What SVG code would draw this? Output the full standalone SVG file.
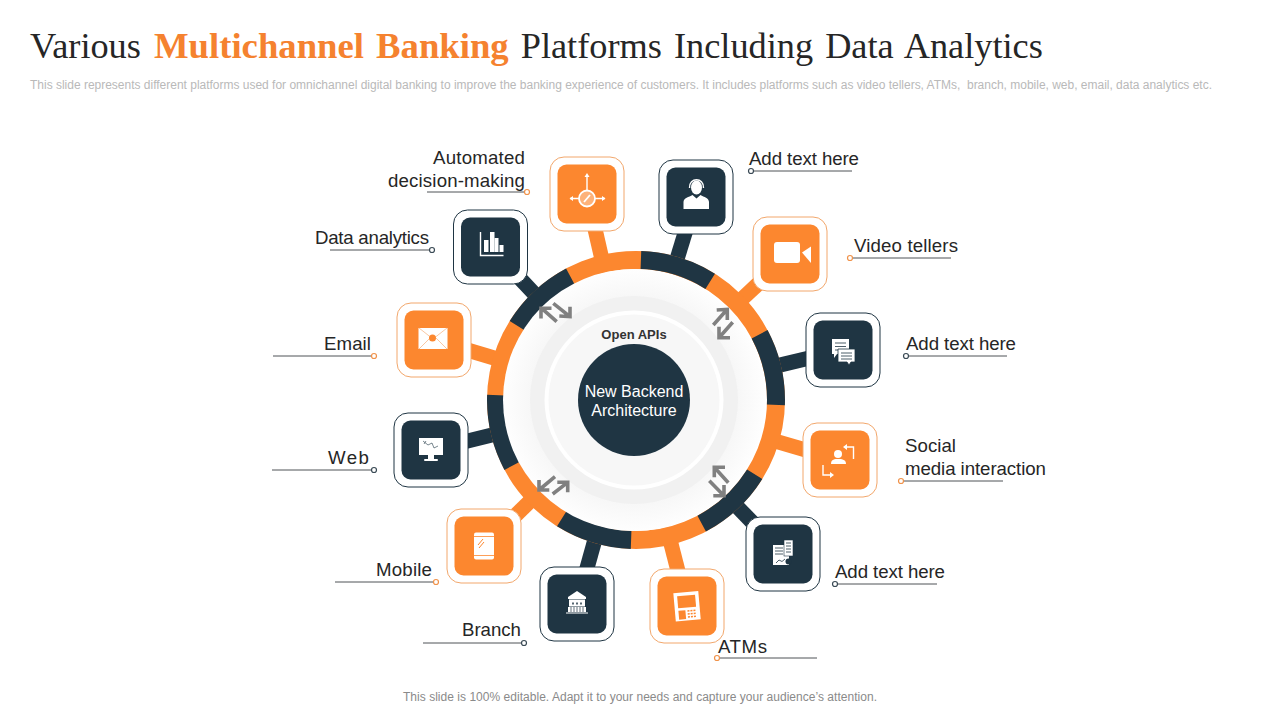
<svg xmlns="http://www.w3.org/2000/svg" width="1280" height="720" viewBox="0 0 1280 720">
<style>
text{font-family:"Liberation Sans",Arial,sans-serif}
.lb{font-size:18.67px;fill:#262626}
.ld{fill:none;stroke:#3a3f44;stroke-width:0.9}
.oO{fill:#fff;stroke:#f2a76c;stroke-width:1}
.oD{fill:#fff;stroke:#1f3543;stroke-width:1}
.iO{fill:#fc872f}
.iD{fill:#1f3543}
.st{stroke-width:15;fill:none}
.ar{fill:none;stroke:#808080;stroke-width:3.6}
.w{fill:#fff}
.wl{fill:none;stroke:#fff;stroke-width:1.4}
</style>
<defs>
<radialGradient id="disc" gradientUnits="userSpaceOnUse" cx="634" cy="400" r="131">
<stop offset="0.7" stop-color="#f4f4f4"/><stop offset="1" stop-color="#fefefe"/>
</radialGradient>
<rect id="o" x="-37" y="-37" width="74" height="74" rx="14" ry="14"/>
<rect id="i" x="-29.500" y="-29.500" width="59" height="59" rx="9" ry="9"/>
</defs>
<rect width="1280" height="720" fill="#fff"/>
<text id="title" x="30" y="58" font-size="36.300" style="font-family:'Liberation Serif','Times New Roman',serif" fill="#262626" word-spacing="3">Various <tspan dx="1" fill="#f5822f" font-weight="bold" font-size="36.700">Multichannel Banking</tspan> Platforms Including Data Analytics</text>
<text x="30" y="89" font-size="12" fill="#b9b9b9" textLength="1182" style="white-space:pre">This slide represents different platforms used for omnichannel digital banking to improve the banking experience of customers. It includes platforms such as video tellers, ATMs,  branch, mobile, web, email, data analytics etc.</text>
<text x="640" y="701" font-size="12" fill="#8a8a8a" text-anchor="middle" textLength="474">This slide is 100% editable. Adapt it to your needs and capture your audience’s attention.</text>

<g id="connectors">
<g class="st" stroke="#fc872f">
<line x1="602.900" y1="263.500" x2="587" y2="194"/>
<line x1="736.200" y1="304.400" x2="790" y2="254"/>
<line x1="768.400" y1="439.100" x2="840" y2="460"/>
<line x1="668.900" y1="535.600" x2="687" y2="606"/>
<line x1="533.700" y1="497.700" x2="484" y2="546"/>
<line x1="499.900" y1="359.800" x2="434" y2="340"/>
</g>
<g class="st" stroke="#1f3543">
<line x1="674.900" y1="266.100" x2="696" y2="197"/>
<line x1="770.200" y1="367.400" x2="843" y2="350"/>
<line x1="731.300" y1="500.600" x2="783" y2="554"/>
<line x1="596.300" y1="534.800" x2="577" y2="604"/>
<line x1="498" y1="433.500" x2="431" y2="450"/>
<line x1="538.200" y1="297.900" x2="490.500" y2="247"/>
</g>
<circle cx="636" cy="400" r="140" fill="none" stroke="#fc872f" stroke-width="18"/>
<path fill="none" stroke="#1f3543" stroke-width="18" d="M640.900 260.100A140 140 0 0 1 710.200 281.300M759.600 334.300A140 140 0 0 1 775.900 404.900M754.700 474.200A140 140 0 0 1 701.700 523.600M631.100 539.900A140 140 0 0 1 561.800 518.700M512.400 465.700A140 140 0 0 1 496.100 395.100M517.300 325.800A140 140 0 0 1 570.300 276.400"/>
</g>

<g id="core">
<circle cx="634" cy="400" r="131" fill="url(#disc)"/>
<circle cx="634" cy="400" r="104" fill="#f1f1f1"/>
<circle cx="634" cy="400" r="87.500" fill="#f7f7f7" stroke="#fff" stroke-width="4"/>
<circle cx="634" cy="400" r="56" fill="#1f3543"/>
<text x="634" y="339" font-size="13" font-weight="bold" fill="#333" text-anchor="middle">Open APIs</text>
<text x="634" y="397" font-size="16" fill="#fff" text-anchor="middle">New Backend</text>
<text x="634" y="416" font-size="16" fill="#fff" text-anchor="middle">Architecture</text>
</g>

<g id="exchange-arrows" class="ar">
<path d="M556.700 321.700L541.700 308.300M541 318.500V308.300H551.500"/>
<path d="M553.300 303.300L570 316.700M570 306.700V316.700L559.300 316"/>
<path d="M713.300 325L727.300 309.300M716.700 310L727.300 309.300V320"/>
<path d="M732.700 322.300L719 337.700M719 326.700V337.700H730"/>
<path d="M728.300 482.700L714.300 467.300M714.300 477.300V467.300H725"/>
<path d="M709.300 480.700L724 495.700M724 485V495.700H713.300"/>
<path d="M555 476.700L539 490M539 480V490H549.300"/>
<path d="M552.700 494L567.700 482.300M557.300 482.300H567.700V492.300"/>
</g>

<g id="node-decision" transform="translate(587 194)">
<use href="#o" class="oO"/><use href="#i" class="iO"/>
<circle cx="0" cy="4.500" r="8" fill="#fdb27a" stroke="#fff" stroke-width="1.800"/>
<path d="M-3 8L3 1" stroke="#fff" stroke-width="1.800"/>
<path class="wl" d="M0-3.500V-19M-17 4.500H-8M8 4.500H18" stroke-width="1"/>
<path class="w" d="M0-21L-2.500-17H2.500ZM-17.500 4.500L-14 2V7ZM18.500 4.500L15 2V7Z"/>
</g>
<g id="node-add1" transform="translate(696 197)">
<use href="#o" class="oD"/><use href="#i" class="iD"/>
<ellipse cx="0.500" cy="-9.500" rx="5.500" ry="7" class="w"/>
<path d="M-6.500-9C-7-20 8-20 7.500-9" class="wl" stroke-width="1"/>
<path class="w" d="M-12.500 12V5C-12.500 1-7 0-3.500-2L0.500 1.500L4.500-2C8 0 13 1 13 5V12Z"/>
</g>
<g id="node-video" transform="translate(790 254)">
<use href="#o" class="oO"/><use href="#i" class="iO"/>
<rect x="-16" y="-12" width="26" height="21" rx="3" class="w"/>
<path class="w" d="M12-1.500L21-7.500V9Z"/>
</g>
<g id="node-add2" transform="translate(843 350)">
<use href="#o" class="oD"/><use href="#i" class="iD"/>
<path class="w" d="M-11-11H6V4H-6L-9 8V4H-11Z"/>
<path d="M-8-7H3M-8-3.500H3M-8 0H-1" stroke="#1f3543" stroke-width="0.800"/>
<path class="w" stroke="#1f3543" stroke-width="0.800" d="M-5-1H12V12H8L6 15L4 12H-5Z"/>
<path d="M-2 3H9M-2 6H9M-2 9H9" stroke="#1f3543" stroke-width="0.800"/>
</g>
<g id="node-social" transform="translate(840 460)">
<use href="#o" class="oO"/><use href="#i" class="iO"/>
<circle cx="-2" cy="-6" r="4" class="w"/>
<path class="w" d="M-9 4C-9-1-5-1-2-1C1-1 6-1 6 4Z"/>
<path class="wl" d="M5-13H13.500V-1M-17 5V15H-9" stroke-width="1.600"/>
<path class="w" d="M3-13L7-16V-10ZM-6 15L-10 12V18Z"/>
</g>
<g id="node-add3" transform="translate(783 554)">
<use href="#o" class="oD"/><use href="#i" class="iD"/>
<rect x="-10" y="-9" width="16" height="20" class="w"/>
<rect x="1" y="-14" width="9" height="16" class="w" stroke="#1f3543" stroke-width="0.600"/>
<path d="M-8-6H0M-8-3H0M-8 0H0M3-11H8M3-8H8M3-5H8M3-2H8" stroke="#1f3543" stroke-width="0.800"/>
<path d="M-7 9L-4 6L-1 7.500L2 5" fill="none" stroke="#1f3543" stroke-width="0.800"/>
<circle cx="5.500" cy="7.500" r="3" fill="#1f3543"/>
</g>
<g id="node-atms" transform="translate(687 606)">
<use href="#o" class="oO"/><use href="#i" class="iO"/>
<g transform="rotate(-5)">
<rect x="-12.500" y="-14" width="25" height="28.500" class="w"/>
<rect x="-9" y="-10.500" width="18" height="12" fill="#fc872f"/>
<rect x="-9" y="4" width="7" height="9" fill="#fc872f"/>
<path d="M0 5H9M0 8H9M0 11H9" stroke="#fc872f" stroke-width="1.600" stroke-dasharray="2 1"/>
</g>
</g>
<g id="node-branch" transform="translate(577 604)">
<use href="#o" class="oD"/><use href="#i" class="iD"/>
<path class="w" d="M0-13L9-7V-5H-9V-7Z"/>
<rect x="-8" y="-4.500" width="16" height="7" class="w"/>
<path d="M-4-1.500V0.500M0-1.500V0.500M4-1.500V0.500" stroke="#1f3543" stroke-width="1.500"/>
<rect x="-9" y="3" width="18" height="5" class="w"/>
<path d="M-6 3V8M-3 3V8M0 3V8M3 3V8M6 3V8" stroke="#1f3543" stroke-width="0.700"/>
<path d="M-11 9H11" stroke="#fff"/>
</g>
<g id="node-mobile" transform="translate(484 546)">
<use href="#o" class="oO"/><use href="#i" class="iO"/>
<rect x="-10" y="-13.500" width="20" height="27" rx="2" class="w"/>
<path d="M-10-9.500H10M-10 9.500H10" stroke="#fc872f" stroke-width="0.800"/>
<path d="M-6-1L-1-7M-5 2L0-4" stroke="#fc872f" stroke-width="1"/>
</g>
<g id="node-web" transform="translate(431 450)">
<use href="#o" class="oD"/><use href="#i" class="iD"/>
<rect x="-12" y="-12" width="24" height="17" class="w"/>
<rect x="-3" y="5" width="6" height="4" class="w"/>
<rect x="-7" y="9" width="14" height="2" rx="1" class="w"/>
<path d="M-8-9L-3-5L1-7L3-2L7-4M-7-6L-5-9" fill="none" stroke="#1f3543" stroke-width="0.600"/>
</g>
<g id="node-email" transform="translate(434 340)">
<use href="#o" class="oO"/><use href="#i" class="iO"/>
<rect x="-15.500" y="-12" width="29" height="21" class="w"/>
<path d="M-15-12L-1-1L13-12M-15 9L-4-2M13 9L2-2" fill="none" stroke="#f7b98a" stroke-width="0.800"/>
<circle cx="-1.500" cy="-2" r="3.500" fill="#fc872f"/>
</g>
<g id="node-data" transform="translate(490.500 247)">
<use href="#o" class="oD"/><use href="#i" class="iD"/>
<path class="wl" d="M-10-15V8.500H13"/>
<rect x="-6.500" y="-7" width="4.500" height="12" class="w"/>
<rect x="-0.500" y="-15" width="4.500" height="20" class="w"/>
<rect x="4" y="-9" width="4" height="14" class="w"/>
<rect x="9" y="-2" width="4" height="7" class="w"/>
</g>

<g id="labels">
<g class="ld">
<path d="M427 192H524M330 250H429.500M273 356H371.500M272 470H371.500M335 582H433.500M423 643H521.500M719.500 658H817M837.500 584H937M903.500 481H1003M908.500 356H1007M852.500 258H951M753.500 171H852"/>
</g>
<g fill="#fff" stroke-width="1.200">
<circle cx="527" cy="192" r="2.500" stroke="#f0924a"/>
<circle cx="432" cy="250" r="2.500" stroke="#3a4a55"/>
<circle cx="374" cy="356" r="2.500" stroke="#f0924a"/>
<circle cx="374" cy="470" r="2.500" stroke="#3a4a55"/>
<circle cx="436" cy="582" r="2.500" stroke="#f0924a"/>
<circle cx="524" cy="643" r="2.500" stroke="#3a4a55"/>
<circle cx="717" cy="658" r="2.500" stroke="#f0924a"/>
<circle cx="835" cy="584" r="2.500" stroke="#3a4a55"/>
<circle cx="901" cy="481" r="2.500" stroke="#f0924a"/>
<circle cx="906" cy="356" r="2.500" stroke="#3a4a55"/>
<circle cx="850" cy="258" r="2.500" stroke="#f0924a"/>
<circle cx="751" cy="171" r="2.500" stroke="#3a4a55"/>
</g>
<g class="lb">
<text x="433" y="164" textLength="92">Automated</text>
<text x="388" y="187" textLength="137">decision-making</text>
<text x="315" y="244" textLength="114">Data analytics</text>
<text x="324" y="350" textLength="47">Email</text>
<text x="328" y="464" textLength="41">Web</text>
<text x="376" y="576" textLength="56">Mobile</text>
<text x="462" y="636" textLength="59">Branch</text>
<text x="718" y="653" textLength="49">ATMs</text>
<text x="835" y="578" textLength="110">Add text here</text>
<text x="905" y="452" textLength="51">Social</text>
<text x="905" y="475" textLength="141">media interaction</text>
<text x="906" y="350" textLength="110">Add text here</text>
<text x="854" y="252" textLength="104">Video tellers</text>
<text x="749" y="165" textLength="110">Add text here</text>
</g>
</g>
</svg>
